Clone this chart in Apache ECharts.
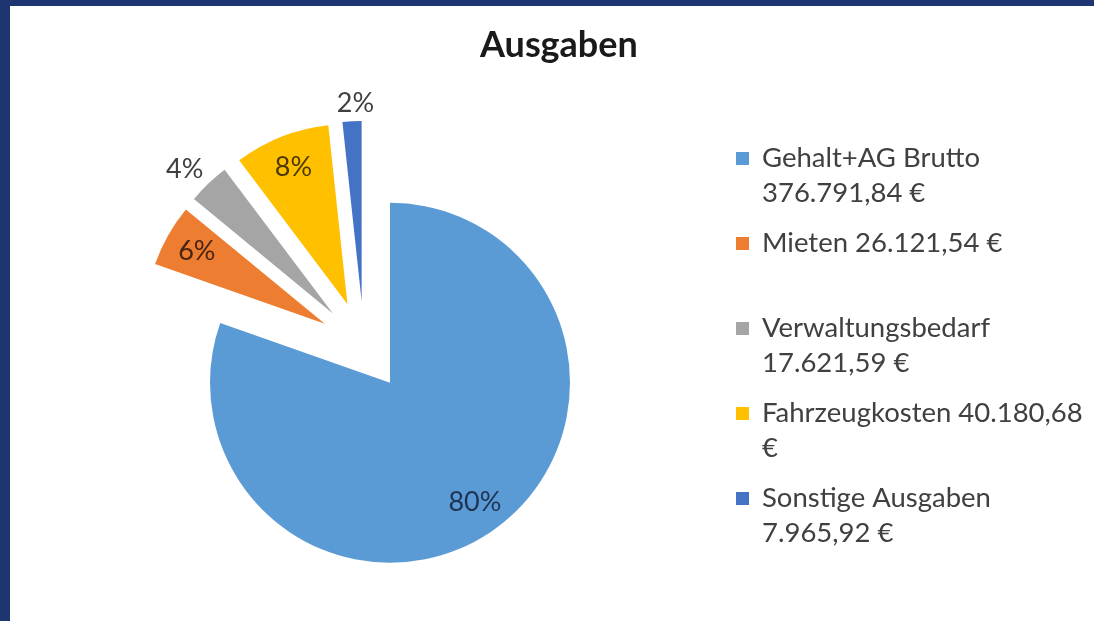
<!DOCTYPE html>
<html>
<head>
<meta charset="utf-8">
<script src="https://cdn.jsdelivr.net/npm/echarts@6/dist/echarts.min.js"></script>
<style>
  html, body { margin: 0; padding: 0; width: 1094px; height: 621px; background: #1d3570; overflow: hidden; }
  #ausgaben { position: absolute; left: 10px; top: 6px; width: 1084px; height: 615px; background: #fff; }
</style>
</head>
<body>
<div id="ausgaben"></div>
<script>
// Daten
var names = [
  'Gehalt+AG Brutto\n376.791,84 €',
  'Mieten 26.121,54 €\n ',
  'Verwaltungsbedarf\n17.621,59 €',
  'Fahrzeugkosten 40.180,68\n€',
  'Sonstige Ausgaben\n7.965,92 €'
];
var betraege = [376791.84, 26121.54, 17621.59, 40180.68, 7965.92];
var prozentLabels = ['80%', '6%', '4%', '8%', '2%'];
var labelPos = ['inside', 'inside', 'outside', 'inside', 'outside'];
var labelAbstand = [0, 0, 19, 0, 18];
var labelVersatz = [0, 0, -8, 0, -23];
var farben = ['#5b9bd5', '#ed7d31', '#a5a5a5', '#ffc000', '#4472c4'];
var labelFarben = ['#1f3454', '#4a2410', '#404040', '#4d3a00', '#404040'];

var chart = echarts.init(document.getElementById('ausgaben'));

// alle Segmente sind leicht herausgezogen (wie in Excel)
var sektoren = [];
var labels = [];
for (var i = 0; i < names.length; i++) {
  sektoren.push({
    name: names[i],
    value: betraege[i],
    selected: true,
    itemStyle: { color: farben[i] }
  });
  labels.push({
    name: names[i],
    value: betraege[i],
    selected: true,
    label: { position: labelPos[i], color: labelFarben[i] },
    labelLine: { length: labelAbstand[i], length2: labelVersatz[i] }
  });
}

var option = {
  animation: false,
  title: {
    text: 'Ausgaben',
    left: 465,
    top: 16,
    textStyle: { fontFamily: 'Lato', fontWeight: 'bold', fontSize: 36, color: '#1a1a1a' }
  },
  legend: {
    orient: 'vertical',
    left: 726,
    top: 100,
    padding: 0,
    itemGap: -20,
    itemWidth: 13,
    itemHeight: 13,
    icon: 'rect',
    selectedMode: false,
    data: names,
    formatter: function (name) { return '\n' + name; },
    textStyle: {
      fontFamily: 'Lato',
      fontSize: 27.5,
      lineHeight: 35,
      color: '#404040',
      padding: [0, 0, 0, 8]
    }
  },
  series: [
    {
      type: 'pie',
      center: [354, 340],
      radius: 180,
      startAngle: 90,
      clockwise: true,
      selectedMode: 'multiple',
      selectedOffset: 45,
      avoidLabelOverlap: false,
      label: { show: false },
      labelLine: { show: false },
      emphasis: { disabled: true },
      data: sektoren
    },
    {
      // nur Beschriftungen
      type: 'pie',
      center: [354, 340],
      radius: [108, 180],
      startAngle: 90,
      clockwise: true,
      selectedMode: 'multiple',
      selectedOffset: 45,
      avoidLabelOverlap: false,
      silent: true,
      itemStyle: { color: 'rgba(0,0,0,0)' },
      label: {
        show: true,
        fontFamily: 'Lato',
        fontSize: 27,
        distanceToLabelLine: 0,
        formatter: function (p) { return prozentLabels[p.dataIndex]; }
      },
      labelLine: { show: false },
      emphasis: { disabled: true },
      data: labels
    }
  ]
};

chart.setOption(option);
</script>
</body>
</html>
